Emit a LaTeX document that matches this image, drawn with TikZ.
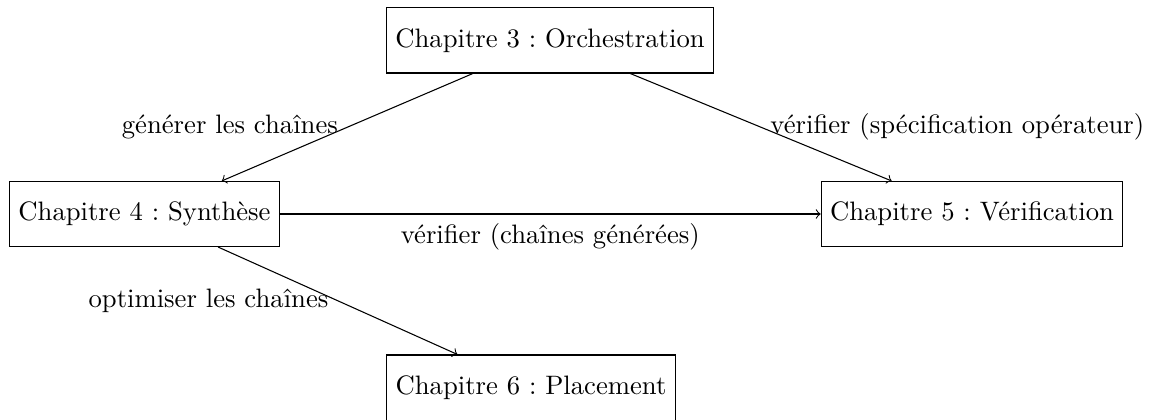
\documentclass[tikz,border=0pt]{standalone}
\frenchspacing
\begin{document}
\begin{tikzpicture}[x=0.375pt,y=-0.375pt,
  chap/.style={draw, minimum height=24.4pt, inner sep=3.333pt},
  flow/.style={->}]
\useasboundingbox (0,0) rectangle (1151,420);
% chapter boxes
\node[chap] (c3) at (550,40.5)  {Chapitre 3 : Orchestration};
\node[chap] (c4) at (144.5,214) {Chapitre 4 : Synthèse};
\node[chap] (c5) at (972,214)   {Chapitre 5 : Vérification};
\node[chap] (c6) at (531,387.5) {Chapitre 6 : Placement};
% dependencies between chapters
\draw[flow] (c3) -- node[left]  {générer les chaînes} (c4);
\draw[flow] (c3) -- node[right] {vérifier (spécification opérateur)} (c5);
\draw[flow] (c4) -- node[below] {vérifier (chaînes générées)} (c5);
\draw[flow] (c4) -- node[left]  {optimiser les chaînes} (c6);
\end{tikzpicture}
\end{document}
